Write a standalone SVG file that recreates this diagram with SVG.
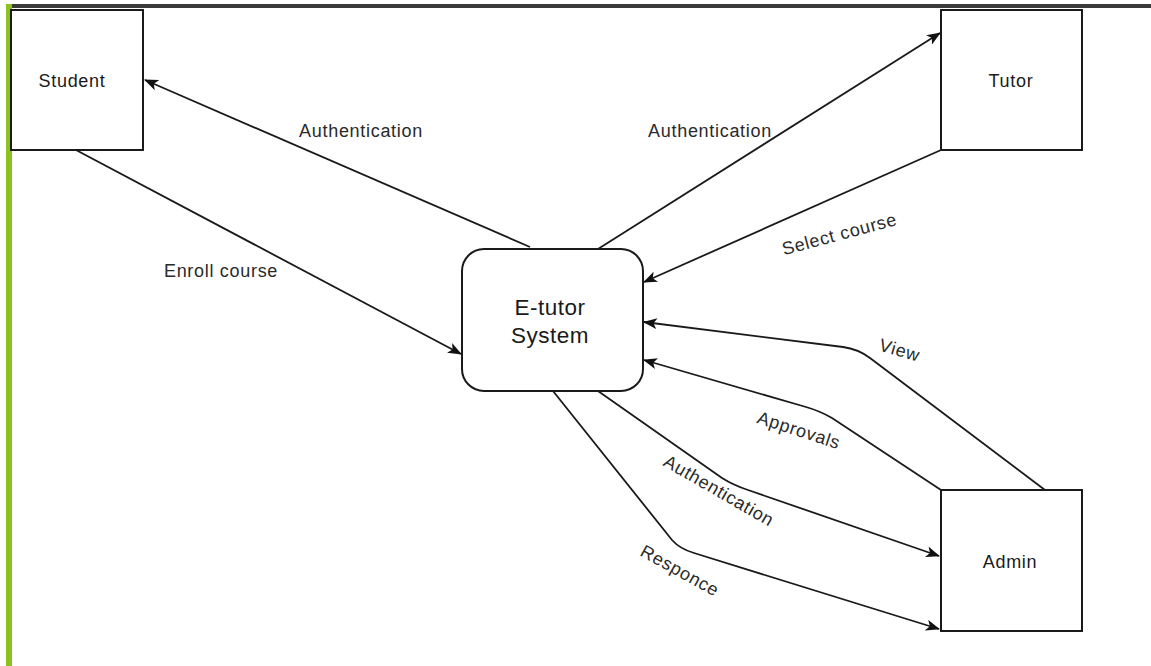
<svg xmlns="http://www.w3.org/2000/svg" width="1151" height="666" viewBox="0 0 1151 666">
  <style>
    .box { fill: #ffffff; stroke: #1a1a1a; stroke-width: 2; }
    .node-label { font-family: "Liberation Sans", Arial, sans-serif; font-size: 18px; letter-spacing: 0.7px; fill: #1a1a1a; text-anchor: middle; }
    .big-label { font-family: "Liberation Sans", Arial, sans-serif; font-size: 22.5px; letter-spacing: 0.5px; fill: #1a1a1a; text-anchor: middle; }
    .edge { fill: none; stroke: #1a1a1a; stroke-width: 1.8; marker-end: url(#arrow); }
    .edge-label { font-family: "Liberation Sans", Arial, sans-serif; font-size: 18px; letter-spacing: 0.7px; fill: #2a2a2a; text-anchor: middle; }
  </style>
  <defs>
    <marker id="arrow" viewBox="0 0 14 11" refX="13" refY="5.5" markerWidth="14" markerHeight="11" markerUnits="userSpaceOnUse" orient="auto">
      <path d="M0,0 L14,5.5 L0,11 L3.5,5.5 Z" fill="#111111"/>
    </marker>
  </defs>

  <!-- page frame -->
  <rect x="0" y="0" width="1151" height="666" fill="#ffffff"/>
  <rect x="6" y="4" width="1145" height="4" fill="#3a3a3a"/>
  <rect x="6" y="4" width="6" height="662" fill="#8cc21f"/>

  <!-- connectors -->
  <g id="connectors">
    <path class="edge" d="M530,247 L145,80"/>
    <path class="edge" d="M76,150 L461,354"/>
    <path class="edge" d="M598,249 L940,33"/>
    <path class="edge" d="M941,150 L644,282"/>
    <path class="edge" d="M1045,490 L870,358 Q858,349 843,347 L644,322"/>
    <path class="edge" d="M941,490 L832,418 Q820,411 806,407 L644,360"/>
    <path class="edge" d="M598,391 L722,478 Q733,485 748,490 L939,556"/>
    <path class="edge" d="M553,391 L672,540 Q680,549 694,553 L939,629"/>

    <text class="edge-label" x="361" y="137">Authentication</text>
    <text class="edge-label" x="221" y="277">Enroll course</text>
    <text class="edge-label" x="710" y="137">Authentication</text>
    <text class="edge-label" transform="translate(841,240) rotate(-15)">Select course</text>
    <text class="edge-label" transform="translate(898,356) rotate(16)">View</text>
    <text class="edge-label" transform="translate(797,436) rotate(18)">Approvals</text>
    <text class="edge-label" transform="translate(716,496) rotate(30)">Authentication</text>
    <text class="edge-label" transform="translate(677,576) rotate(29)">Responce</text>
  </g>

  <!-- nodes -->
  <g id="student">
    <rect class="box" x="11" y="10" width="132" height="140"/>
    <text class="node-label" x="72" y="87">Student</text>
  </g>
  <g id="tutor">
    <rect class="box" x="941" y="10" width="141" height="140"/>
    <text class="node-label" x="1011" y="87">Tutor</text>
  </g>
  <g id="etutor-system">
    <rect class="box" x="462" y="249" width="181" height="142" rx="22" ry="22"/>
    <text class="big-label" x="550" y="315">E-tutor</text>
    <text class="big-label" x="550" y="343">System</text>
  </g>
  <g id="admin">
    <rect class="box" x="941" y="490" width="141" height="141"/>
    <text class="node-label" x="1010" y="568">Admin</text>
  </g>
</svg>
